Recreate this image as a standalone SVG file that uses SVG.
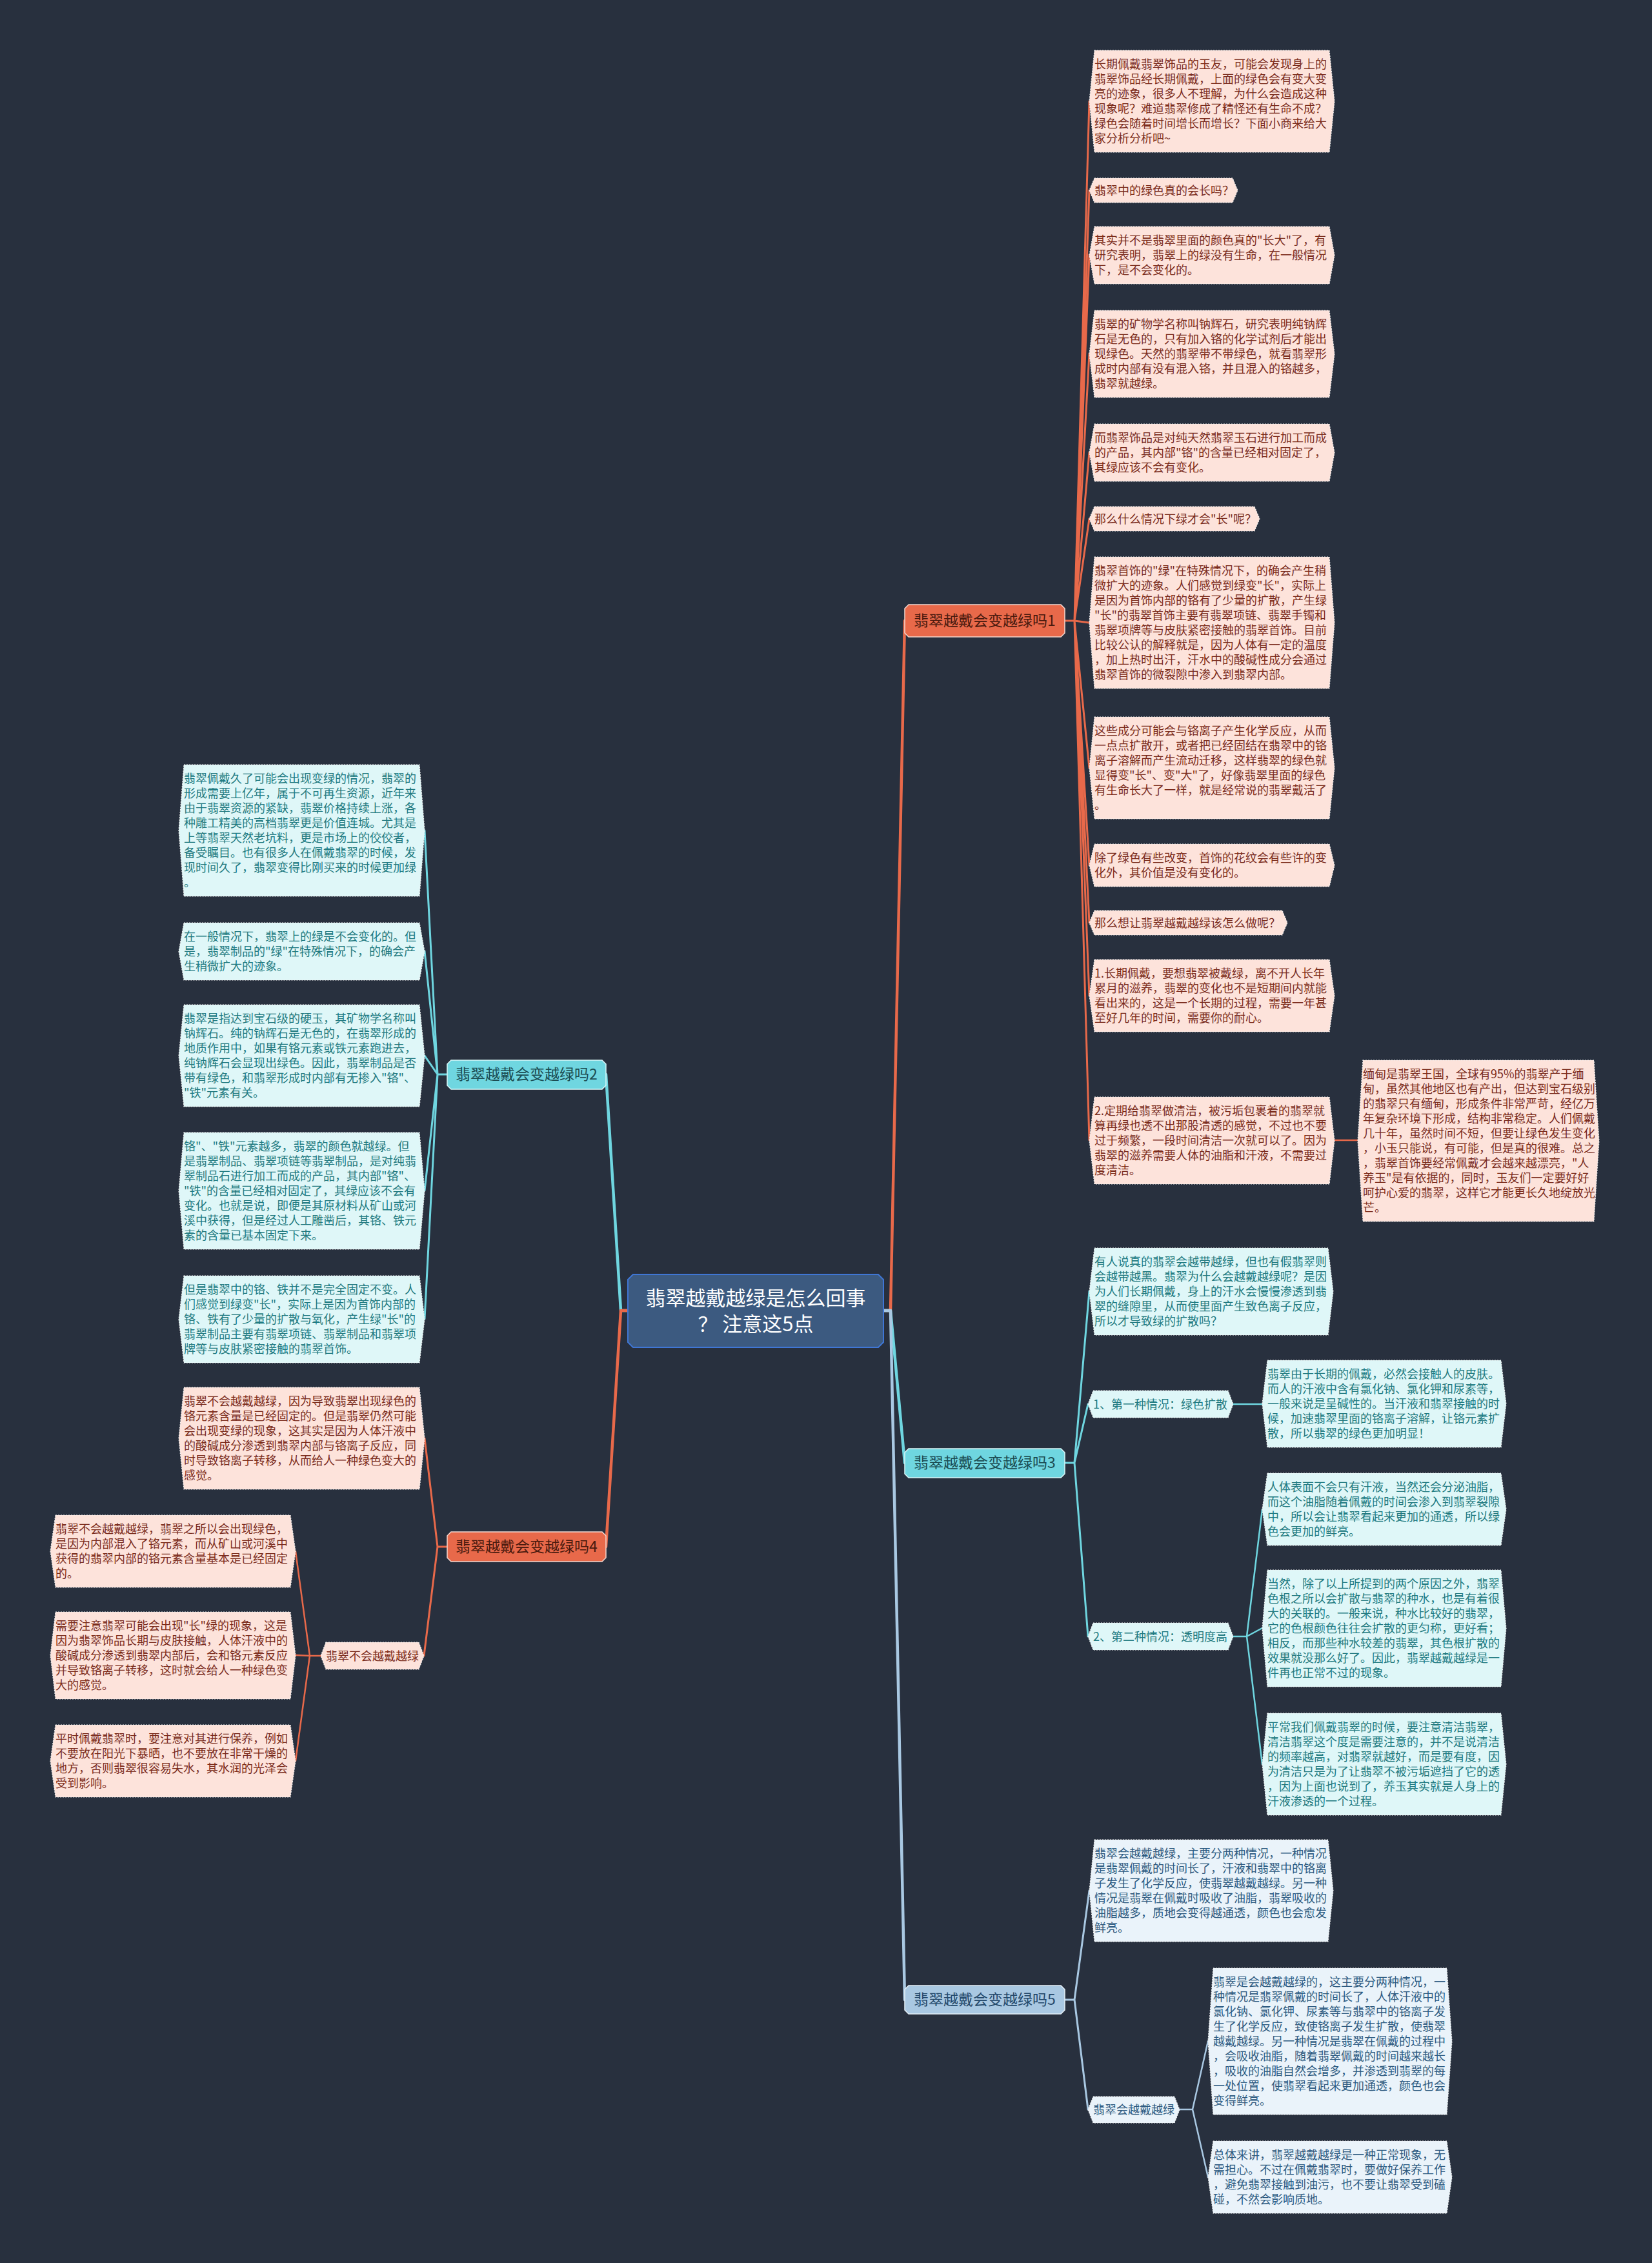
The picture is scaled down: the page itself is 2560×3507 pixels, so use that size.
<svg xmlns="http://www.w3.org/2000/svg" width="2560" height="3507" viewBox="0 0 2560 3507">
<style>
.lp{fill:#FDE3DB;stroke:#F2F2F2;stroke-width:1.2;stroke-dasharray:2 2}
.lc{fill:#DFF7F8;stroke:#F2F2F2;stroke-width:1.2;stroke-dasharray:2 2}
.lb{fill:#EAF3FA;stroke:#F2F2F2;stroke-width:1.2;stroke-dasharray:2 2}
.t{font-family:"Noto Sans CJK SC","Noto Sans",sans-serif;font-size:18px}
.tp{fill:#7A2B1B}
.tc{fill:#217A80}
.tb{fill:#2D5A80}
.bt{font-family:"Noto Sans CJK SC","Noto Sans",sans-serif;font-size:23px;text-anchor:middle}
.c{fill:none;stroke-linejoin:round;stroke-linecap:round}
.co{stroke:#E8694A}
.cc{stroke:#6FD6E0}
.cb{stroke:#A9C8E2}
.w1{stroke-width:4.5}
.w2{stroke-width:3}
.w3{stroke-width:2.5}
</style>
<rect width="2560" height="3507" fill="#28303E"/>
<g id="connectors">
<path class="c co w1" d="M1369 2031 H1380 L1402 962"/>
<path class="c cc w1" d="M1369 2031 H1380 L1402 2267"/>
<path class="c cb w1" d="M1369 2031 H1380 L1402 3099"/>
<path class="c cc w1" d="M973 2031 H962 L939 1665"/>
<path class="c co w1" d="M973 2031 H962 L939 2397"/>
<path class="c co w2" d="M1650 962 H1665 L1688 157 M1665 962 L1688 295 M1665 962 L1688 395 M1665 962 L1688 548 M1665 962 L1688 701 M1665 962 L1688 804 M1665 962 L1688 965 M1665 962 L1688 1190 M1665 962 L1688 1341 M1665 962 L1688 1430 M1665 962 L1688 1543 M1665 962 L1688 1767"/>
<path class="c co w3" d="M2068 1767 H2104"/>
<path class="c cc w2" d="M1650 2267 H1665 L1688 2001 M1665 2267 L1686 2176 M1665 2267 L1686 2536"/>
<path class="c cc w3" d="M1911 2176 H1956"/>
<path class="c cc w3" d="M1911 2536 H1932 L1956 2339 M1932 2536 L1956 2523 M1932 2536 L1956 2734"/>
<path class="c cb w2" d="M1650 3099 H1665 L1688 2930 M1665 3099 L1686 3269"/>
<path class="c cb w3" d="M1828 3269 H1848 L1872 3163 M1848 3269 L1872 3374"/>
<path class="c cc w2" d="M693 1665 H678 L658 1287 M678 1665 L658 1474 M678 1665 L658 1636 M678 1665 L658 1845 M678 1665 L658 2044"/>
<path class="c co w2" d="M693 2397 H678 L658 2229 M678 2397 L657 2566"/>
<path class="c co w3" d="M497 2566 H480 L458 2404 M480 2566 L458 2565 M480 2566 L458 2729"/>
</g>
<g id="center">
<polygon points="981,1975 1361,1975 1369,1983 1369,2080 1361,2088 981,2088 973,2080 973,1983" fill="#3C5A80" stroke="#3F76D4" stroke-width="2"/>
<text font-family="Noto Sans CJK SC, Noto Sans, sans-serif" font-size="31" fill="#FFFFFF" text-anchor="middle"><tspan x="1171" y="2023">翡翠越戴越绿是怎么回事</tspan><tspan x="1171" y="2063">？ 注意这5点</tspan></text>
</g>
<g id="branch1">
<polygon points="1408,937 1644,937 1650,943 1650,981 1644,987 1408,987 1402,981 1402,943" fill="#E8694A" stroke="#F3D6CE" stroke-width="1.5"/>
<text class="bt" x="1526" y="970" fill="#4A1A0E">翡翠越戴会变越绿吗1</text>
</g>
<g id="branch2">
<polygon points="699,1643 933,1643 939,1649 939,1682 933,1688 699,1688 693,1682 693,1649" fill="#6FD6E0" stroke="#D8F6F8" stroke-width="1.5"/>
<text class="bt" x="816" y="1673" fill="#1B4C52">翡翠越戴会变越绿吗2</text>
</g>
<g id="branch3">
<polygon points="1408,2245 1644,2245 1650,2251 1650,2284 1644,2290 1408,2290 1402,2284 1402,2251" fill="#6FD6E0" stroke="#D8F6F8" stroke-width="1.5"/>
<text class="bt" x="1526" y="2275" fill="#1B4C52">翡翠越戴会变越绿吗3</text>
</g>
<g id="branch4">
<polygon points="699,2374 933,2374 939,2380 939,2414 933,2420 699,2420 693,2414 693,2380" fill="#E8694A" stroke="#F3D6CE" stroke-width="1.5"/>
<text class="bt" x="816" y="2405" fill="#4A1A0E">翡翠越戴会变越绿吗4</text>
</g>
<g id="branch5">
<polygon points="1408,3077 1644,3077 1650,3083 1650,3115 1644,3121 1408,3121 1402,3115 1402,3083" fill="#A9C8E2" stroke="#E4EEF6" stroke-width="1.5"/>
<text class="bt" x="1526" y="3107" fill="#24496B">翡翠越戴会变越绿吗5</text>
</g>
<g id="n1-1">
<polygon class="lp" points="1696,78 2060,78 2068,157 2060,236 1696,236 1688,157"/>
<text class="t tp" y="106"><tspan x="1696">长期佩戴翡翠饰品的玉友，可能会发现身上的</tspan><tspan x="1696" dy="23">翡翠饰品经长期佩戴，上面的绿色会有变大变</tspan><tspan x="1696" dy="23">亮的迹象，很多人不理解，为什么会造成这种</tspan><tspan x="1696" dy="23">现象呢？难道翡翠修成了精怪还有生命不成？</tspan><tspan x="1696" dy="23">绿色会随着时间增长而增长？下面小商来给大</tspan><tspan x="1696" dy="23">家分析分析吧~</tspan></text>
</g>
<g id="n1-2">
<polygon class="lp" points="1696,276 1910,276 1918,295 1910,314 1696,314 1688,295"/>
<text class="t tp" x="1696" y="302">翡翠中的绿色真的会长吗？</text>
</g>
<g id="n1-3">
<polygon class="lp" points="1696,351 2060,351 2068,395.5 2060,440 1696,440 1688,395.5"/>
<text class="t tp" y="379"><tspan x="1696">其实并不是翡翠里面的颜色真的"长大"了，有</tspan><tspan x="1696" dy="23">研究表明，翡翠上的绿没有生命，在一般情况</tspan><tspan x="1696" dy="23">下，是不会变化的。</tspan></text>
</g>
<g id="n1-4">
<polygon class="lp" points="1696,481 2060,481 2068,548.5 2060,616 1696,616 1688,548.5"/>
<text class="t tp" y="509"><tspan x="1696">翡翠的矿物学名称叫钠辉石，研究表明纯钠辉</tspan><tspan x="1696" dy="23">石是无色的，只有加入铬的化学试剂后才能出</tspan><tspan x="1696" dy="23">现绿色。天然的翡翠带不带绿色，就看翡翠形</tspan><tspan x="1696" dy="23">成时内部有没有混入铬，并且混入的铬越多，</tspan><tspan x="1696" dy="23">翡翠就越绿。</tspan></text>
</g>
<g id="n1-5">
<polygon class="lp" points="1696,657 2060,657 2068,701.5 2060,746 1696,746 1688,701.5"/>
<text class="t tp" y="685"><tspan x="1696">而翡翠饰品是对纯天然翡翠玉石进行加工而成</tspan><tspan x="1696" dy="23">的产品，其内部"铬"的含量已经相对固定了，</tspan><tspan x="1696" dy="23">其绿应该不会有变化。</tspan></text>
</g>
<g id="n1-6">
<polygon class="lp" points="1696,785 1944,785 1952,804 1944,823 1696,823 1688,804"/>
<text class="t tp" x="1696" y="810.5">那么什么情况下绿才会"长"呢？</text>
</g>
<g id="n1-7">
<polygon class="lp" points="1696,863 2060,863 2068,965 2060,1067 1696,1067 1688,965"/>
<text class="t tp" y="891"><tspan x="1696">翡翠首饰的"绿"在特殊情况下，的确会产生稍</tspan><tspan x="1696" dy="23">微扩大的迹象。人们感觉到绿变"长"，实际上</tspan><tspan x="1696" dy="23">是因为首饰内部的铬有了少量的扩散，产生绿</tspan><tspan x="1696" dy="23">"长"的翡翠首饰主要有翡翠项链、翡翠手镯和</tspan><tspan x="1696" dy="23">翡翠项牌等与皮肤紧密接触的翡翠首饰。目前</tspan><tspan x="1696" dy="23">比较公认的解释就是，因为人体有一定的温度</tspan><tspan x="1696" dy="23">，加上热时出汗，汗水中的酸碱性成分会通过</tspan><tspan x="1696" dy="23">翡翠首饰的微裂隙中渗入到翡翠内部。</tspan></text>
</g>
<g id="n1-8">
<polygon class="lp" points="1696,1111 2060,1111 2068,1190 2060,1269 1696,1269 1688,1190"/>
<text class="t tp" y="1139"><tspan x="1696">这些成分可能会与铬离子产生化学反应，从而</tspan><tspan x="1696" dy="23">一点点扩散开，或者把已经固结在翡翠中的铬</tspan><tspan x="1696" dy="23">离子溶解而产生流动迁移，这样翡翠的绿色就</tspan><tspan x="1696" dy="23">显得变"长"、变"大"了，好像翡翠里面的绿色</tspan><tspan x="1696" dy="23">有生命长大了一样，就是经常说的翡翠戴活了</tspan><tspan x="1696" dy="23">。</tspan></text>
</g>
<g id="n1-9">
<polygon class="lp" points="1696,1308 2060,1308 2068,1341 2060,1374 1696,1374 1688,1341"/>
<text class="t tp" y="1336"><tspan x="1696">除了绿色有些改变，首饰的花纹会有些许的变</tspan><tspan x="1696" dy="23">化外，其价值是没有变化的。</tspan></text>
</g>
<g id="n1-10">
<polygon class="lp" points="1696,1411 1987,1411 1995,1430 1987,1449 1696,1449 1688,1430"/>
<text class="t tp" x="1696" y="1436.5">那么想让翡翠越戴越绿该怎么做呢？</text>
</g>
<g id="n1-11">
<polygon class="lp" points="1696,1487 2060,1487 2068,1543 2060,1599 1696,1599 1688,1543"/>
<text class="t tp" y="1515"><tspan x="1696">1.长期佩戴，要想翡翠被戴绿，离不开人长年</tspan><tspan x="1696" dy="23">累月的滋养，翡翠的变化也不是短期间内就能</tspan><tspan x="1696" dy="23">看出来的，这是一个长期的过程，需要一年甚</tspan><tspan x="1696" dy="23">至好几年的时间，需要你的耐心。</tspan></text>
</g>
<g id="n1-12">
<polygon class="lp" points="1696,1700 2060,1700 2068,1767.5 2060,1835 1696,1835 1688,1767.5"/>
<text class="t tp" y="1728"><tspan x="1696">2.定期给翡翠做清洁，被污垢包裹着的翡翠就</tspan><tspan x="1696" dy="23">算再绿也透不出那股清透的感觉，不过也不要</tspan><tspan x="1696" dy="23">过于频繁，一段时间清洁一次就可以了。因为</tspan><tspan x="1696" dy="23">翡翠的滋养需要人体的油脂和汗液，不需要过</tspan><tspan x="1696" dy="23">度清洁。</tspan></text>
</g>
<g id="n1-12-1">
<polygon class="lp" points="2112,1643 2470,1643 2478,1768 2470,1893 2112,1893 2104,1768"/>
<text class="t tp" y="1671"><tspan x="2112">缅甸是翡翠王国，全球有95%的翡翠产于缅</tspan><tspan x="2112" dy="23">甸，虽然其他地区也有产出，但达到宝石级别</tspan><tspan x="2112" dy="23">的翡翠只有缅甸，形成条件非常严苛，经亿万</tspan><tspan x="2112" dy="23">年复杂环境下形成，结构非常稳定。人们佩戴</tspan><tspan x="2112" dy="23">几十年，虽然时间不短，但要让绿色发生变化</tspan><tspan x="2112" dy="23">，小玉只能说，有可能，但是真的很难。总之</tspan><tspan x="2112" dy="23">，翡翠首饰要经常佩戴才会越来越漂亮，"人</tspan><tspan x="2112" dy="23">养玉"是有依据的，同时，玉友们一定要好好</tspan><tspan x="2112" dy="23">呵护心爱的翡翠，这样它才能更长久地绽放光</tspan><tspan x="2112" dy="23">芒。</tspan></text>
</g>
<g id="n3-1">
<polygon class="lc" points="1696,1934 2058,1934 2066,2001.5 2058,2069 1696,2069 1688,2001.5"/>
<text class="t tc" y="1962"><tspan x="1696">有人说真的翡翠会越带越绿，但也有假翡翠则</tspan><tspan x="1696" dy="23">会越带越黑。翡翠为什么会越戴越绿呢？是因</tspan><tspan x="1696" dy="23">为人们长期佩戴，身上的汗水会慢慢渗透到翡</tspan><tspan x="1696" dy="23">翠的缝隙里，从而使里面产生致色离子反应，</tspan><tspan x="1696" dy="23">所以才导致绿的扩散吗？</tspan></text>
</g>
<g id="n3-2">
<polygon class="lc" points="1694,2155 1903,2155 1911,2176 1903,2197 1694,2197 1686,2176"/>
<text class="t tc" x="1694" y="2182.5">1、第一种情况：绿色扩散</text>
</g>
<g id="n3-2-1">
<polygon class="lc" points="1964,2108 2326,2108 2334,2175.5 2326,2243 1964,2243 1956,2175.5"/>
<text class="t tc" y="2136"><tspan x="1964">翡翠由于长期的佩戴，必然会接触人的皮肤。</tspan><tspan x="1964" dy="23">而人的汗液中含有氯化钠、氯化钾和尿素等，</tspan><tspan x="1964" dy="23">一般来说是呈碱性的。当汗液和翡翠接触的时</tspan><tspan x="1964" dy="23">候，加速翡翠里面的铬离子溶解，让铬元素扩</tspan><tspan x="1964" dy="23">散，所以翡翠的绿色更加明显！</tspan></text>
</g>
<g id="n3-3">
<polygon class="lc" points="1694,2515 1903,2515 1911,2536 1903,2557 1694,2557 1686,2536"/>
<text class="t tc" x="1694" y="2542.5">2、第二种情况：透明度高</text>
</g>
<g id="n3-3-1">
<polygon class="lc" points="1964,2283 2326,2283 2334,2339 2326,2395 1964,2395 1956,2339"/>
<text class="t tc" y="2311"><tspan x="1964">人体表面不会只有汗液，当然还会分泌油脂，</tspan><tspan x="1964" dy="23">而这个油脂随着佩戴的时间会渗入到翡翠裂隙</tspan><tspan x="1964" dy="23">中，所以会让翡翠看起来更加的通透，所以绿</tspan><tspan x="1964" dy="23">色会更加的鲜亮。</tspan></text>
</g>
<g id="n3-3-2">
<polygon class="lc" points="1964,2433 2326,2433 2334,2523.5 2326,2614 1964,2614 1956,2523.5"/>
<text class="t tc" y="2461"><tspan x="1964">当然，除了以上所提到的两个原因之外，翡翠</tspan><tspan x="1964" dy="23">色根之所以会扩散与翡翠的种水，也是有着很</tspan><tspan x="1964" dy="23">大的关联的。一般来说，种水比较好的翡翠，</tspan><tspan x="1964" dy="23">它的色根颜色往往会扩散的更匀称，更好看；</tspan><tspan x="1964" dy="23">相反，而那些种水较差的翡翠，其色根扩散的</tspan><tspan x="1964" dy="23">效果就没那么好了。因此，翡翠越戴越绿是一</tspan><tspan x="1964" dy="23">件再也正常不过的现象。</tspan></text>
</g>
<g id="n3-3-3">
<polygon class="lc" points="1964,2655 2326,2655 2334,2734 2326,2813 1964,2813 1956,2734"/>
<text class="t tc" y="2683"><tspan x="1964">平常我们佩戴翡翠的时候，要注意清洁翡翠，</tspan><tspan x="1964" dy="23">清洁翡翠这个度是需要注意的，并不是说清洁</tspan><tspan x="1964" dy="23">的频率越高，对翡翠就越好，而是要有度，因</tspan><tspan x="1964" dy="23">为清洁只是为了让翡翠不被污垢遮挡了它的透</tspan><tspan x="1964" dy="23">，因为上面也说到了，养玉其实就是人身上的</tspan><tspan x="1964" dy="23">汗液渗透的一个过程。</tspan></text>
</g>
<g id="n5-1">
<polygon class="lb" points="1696,2851 2058,2851 2066,2930 2058,3009 1696,3009 1688,2930"/>
<text class="t tb" y="2879"><tspan x="1696">翡翠会越戴越绿，主要分两种情况，一种情况</tspan><tspan x="1696" dy="23">是翡翠佩戴的时间长了，汗液和翡翠中的铬离</tspan><tspan x="1696" dy="23">子发生了化学反应，使翡翠越戴越绿。另一种</tspan><tspan x="1696" dy="23">情况是翡翠在佩戴时吸收了油脂，翡翠吸收的</tspan><tspan x="1696" dy="23">油脂越多，质地会变得越通透，颜色也会愈发</tspan><tspan x="1696" dy="23">鲜亮。</tspan></text>
</g>
<g id="n5-2">
<polygon class="lb" points="1694,3249 1820,3249 1828,3269.5 1820,3290 1694,3290 1686,3269.5"/>
<text class="t tb" x="1694" y="3276">翡翠会越戴越绿</text>
</g>
<g id="n5-2-1">
<polygon class="lb" points="1880,3050 2242,3050 2250,3163.5 2242,3277 1880,3277 1872,3163.5"/>
<text class="t tb" y="3078"><tspan x="1880">翡翠是会越戴越绿的，这主要分两种情况，一</tspan><tspan x="1880" dy="23">种情况是翡翠佩戴的时间长了，人体汗液中的</tspan><tspan x="1880" dy="23">氯化钠、氯化钾、尿素等与翡翠中的铬离子发</tspan><tspan x="1880" dy="23">生了化学反应，致使铬离子发生扩散，使翡翠</tspan><tspan x="1880" dy="23">越戴越绿。另一种情况是翡翠在佩戴的过程中</tspan><tspan x="1880" dy="23">，会吸收油脂，随着翡翠佩戴的时间越来越长</tspan><tspan x="1880" dy="23">，吸收的油脂自然会增多，并渗透到翡翠的每</tspan><tspan x="1880" dy="23">一处位置，使翡翠看起来更加通透，颜色也会</tspan><tspan x="1880" dy="23">变得鲜亮。</tspan></text>
</g>
<g id="n5-2-2">
<polygon class="lb" points="1880,3318 2242,3318 2250,3374 2242,3430 1880,3430 1872,3374"/>
<text class="t tb" y="3346"><tspan x="1880">总体来讲，翡翠越戴越绿是一种正常现象，无</tspan><tspan x="1880" dy="23">需担心。不过在佩戴翡翠时，要做好保养工作</tspan><tspan x="1880" dy="23">，避免翡翠接触到油污，也不要让翡翠受到磕</tspan><tspan x="1880" dy="23">碰，不然会影响质地。</tspan></text>
</g>
<g id="n2-1">
<polygon class="lc" points="285,1185 650,1185 658,1287 650,1389 285,1389 277,1287"/>
<text class="t tc" y="1213"><tspan x="285">翡翠佩戴久了可能会出现变绿的情况，翡翠的</tspan><tspan x="285" dy="23">形成需要上亿年，属于不可再生资源，近年来</tspan><tspan x="285" dy="23">由于翡翠资源的紧缺，翡翠价格持续上涨，各</tspan><tspan x="285" dy="23">种雕工精美的高档翡翠更是价值连城。尤其是</tspan><tspan x="285" dy="23">上等翡翠天然老坑料，更是市场上的佼佼者，</tspan><tspan x="285" dy="23">备受瞩目。也有很多人在佩戴翡翠的时候，发</tspan><tspan x="285" dy="23">现时间久了，翡翠变得比刚买来的时候更加绿</tspan><tspan x="285" dy="23">。</tspan></text>
</g>
<g id="n2-2">
<polygon class="lc" points="285,1430 650,1430 658,1474.5 650,1519 285,1519 277,1474.5"/>
<text class="t tc" y="1458"><tspan x="285">在一般情况下，翡翠上的绿是不会变化的。但</tspan><tspan x="285" dy="23">是，翡翠制品的"绿"在特殊情况下，的确会产</tspan><tspan x="285" dy="23">生稍微扩大的迹象。</tspan></text>
</g>
<g id="n2-3">
<polygon class="lc" points="285,1557 650,1557 658,1636 650,1715 285,1715 277,1636"/>
<text class="t tc" y="1585"><tspan x="285">翡翠是指达到宝石级的硬玉，其矿物学名称叫</tspan><tspan x="285" dy="23">钠辉石。纯的钠辉石是无色的，在翡翠形成的</tspan><tspan x="285" dy="23">地质作用中，如果有铬元素或铁元素跑进去，</tspan><tspan x="285" dy="23">纯钠辉石会显现出绿色。因此，翡翠制品是否</tspan><tspan x="285" dy="23">带有绿色，和翡翠形成时内部有无掺入"铬"、</tspan><tspan x="285" dy="23">"铁"元素有关。</tspan></text>
</g>
<g id="n2-4">
<polygon class="lc" points="285,1755 650,1755 658,1845.5 650,1936 285,1936 277,1845.5"/>
<text class="t tc" y="1783"><tspan x="285">铬"、"铁"元素越多，翡翠的颜色就越绿。但</tspan><tspan x="285" dy="23">是翡翠制品、翡翠项链等翡翠制品，是对纯翡</tspan><tspan x="285" dy="23">翠制品石进行加工而成的产品，其内部"铬"、</tspan><tspan x="285" dy="23">"铁"的含量已经相对固定了，其绿应该不会有</tspan><tspan x="285" dy="23">变化。也就是说，即便是其原材料从矿山或河</tspan><tspan x="285" dy="23">溪中获得，但是经过人工雕凿后，其铬、铁元</tspan><tspan x="285" dy="23">素的含量已基本固定下来。</tspan></text>
</g>
<g id="n2-5">
<polygon class="lc" points="285,1977 650,1977 658,2044.5 650,2112 285,2112 277,2044.5"/>
<text class="t tc" y="2005"><tspan x="285">但是翡翠中的铬、铁并不是完全固定不变。人</tspan><tspan x="285" dy="23">们感觉到绿变"长"，实际上是因为首饰内部的</tspan><tspan x="285" dy="23">铬、铁有了少量的扩散与氧化，产生绿"长"的</tspan><tspan x="285" dy="23">翡翠制品主要有翡翠项链、翡翠制品和翡翠项</tspan><tspan x="285" dy="23">牌等与皮肤紧密接触的翡翠首饰。</tspan></text>
</g>
<g id="n4-1">
<polygon class="lp" points="285,2150 650,2150 658,2229 650,2308 285,2308 277,2229"/>
<text class="t tp" y="2178"><tspan x="285">翡翠不会越戴越绿，因为导致翡翠出现绿色的</tspan><tspan x="285" dy="23">铬元素含量是已经固定的。但是翡翠仍然可能</tspan><tspan x="285" dy="23">会出现变绿的现象，这其实是因为人体汗液中</tspan><tspan x="285" dy="23">的酸碱成分渗透到翡翠内部与铬离子反应，同</tspan><tspan x="285" dy="23">时导致铬离子转移，从而给人一种绿色变大的</tspan><tspan x="285" dy="23">感觉。</tspan></text>
</g>
<g id="n4-2">
<polygon class="lp" points="505,2545 649,2545 657,2566 649,2587 505,2587 497,2566"/>
<text class="t tp" x="505" y="2572.5">翡翠不会越戴越绿</text>
</g>
<g id="n4-2-1">
<polygon class="lp" points="86,2348 450,2348 458,2404 450,2460 86,2460 78,2404"/>
<text class="t tp" y="2376"><tspan x="86">翡翠不会越戴越绿，翡翠之所以会出现绿色，</tspan><tspan x="86" dy="23">是因为内部混入了铬元素，而从矿山或河溪中</tspan><tspan x="86" dy="23">获得的翡翠内部的铬元素含量基本是已经固定</tspan><tspan x="86" dy="23">的。</tspan></text>
</g>
<g id="n4-2-2">
<polygon class="lp" points="86,2498 450,2498 458,2565.5 450,2633 86,2633 78,2565.5"/>
<text class="t tp" y="2526"><tspan x="86">需要注意翡翠可能会出现"长"绿的现象，这是</tspan><tspan x="86" dy="23">因为翡翠饰品长期与皮肤接触，人体汗液中的</tspan><tspan x="86" dy="23">酸碱成分渗透到翡翠内部后，会和铬元素反应</tspan><tspan x="86" dy="23">并导致铬离子转移，这时就会给人一种绿色变</tspan><tspan x="86" dy="23">大的感觉。</tspan></text>
</g>
<g id="n4-2-3">
<polygon class="lp" points="86,2673 450,2673 458,2729 450,2785 86,2785 78,2729"/>
<text class="t tp" y="2701"><tspan x="86">平时佩戴翡翠时，要注意对其进行保养，例如</tspan><tspan x="86" dy="23">不要放在阳光下暴晒，也不要放在非常干燥的</tspan><tspan x="86" dy="23">地方，否则翡翠很容易失水，其水润的光泽会</tspan><tspan x="86" dy="23">受到影响。</tspan></text>
</g>
</svg>
